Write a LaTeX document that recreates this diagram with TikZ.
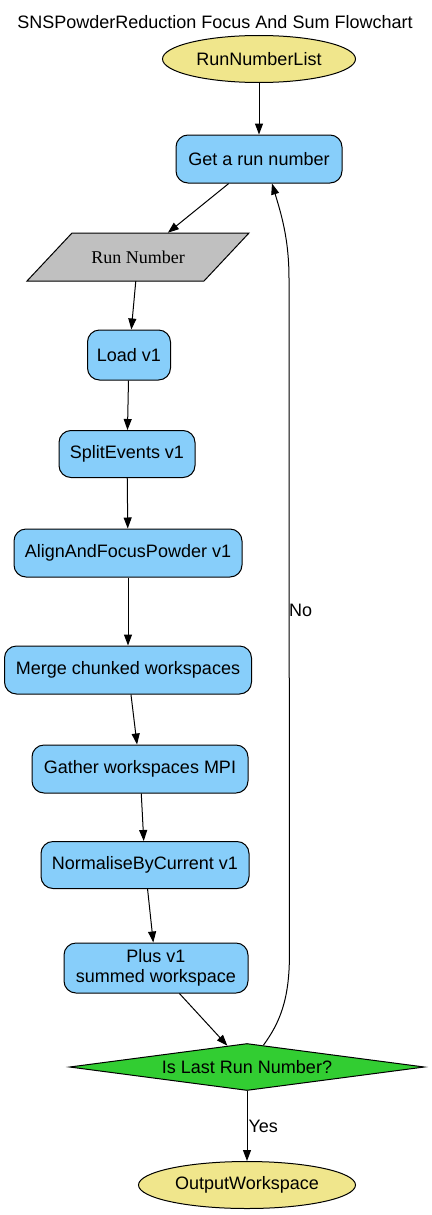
\documentclass[tikz,border=0pt]{standalone}
\usepackage{fontspec}
\setmainfont{Liberation Sans}
\newfontfamily\serifrm{Liberation Serif}
\usetikzlibrary{shapes.geometric,arrows.meta,calc}
\definecolor{boxblue}{HTML}{87CEFA}
\definecolor{khakiY}{HTML}{F0E68C}
\definecolor{grayP}{HTML}{C0C0C0}
\definecolor{greenD}{HTML}{32CD32}
\tikzset{
  every node/.style={font=\fontsize{18}{20}\selectfont},
  proc/.style={draw=black, line width=1pt, fill=boxblue, rounded corners=12pt, minimum height=48pt, inner sep=0pt, align=center},
  term/.style={draw=black, line width=1pt, fill=khakiY, ellipse, inner sep=0pt, minimum height=47pt},
  conn/.style={line width=1pt, -{Triangle[length=11pt,width=8pt]}},
}
\begin{document}
\begin{tikzpicture}[x=1pt,y=-1pt]
\useasboundingbox (0,0) rectangle (431,1215);
\node (title) at (215,22) {SNSPowderReduction Focus And Sum Flowchart};
\node[term, minimum width=193pt] (rnl) at (259,59) {RunNumberList};
\node[proc, minimum width=166pt] (get) at (259,159) {Get a run number};
\node[draw=none, minimum width=177pt, minimum height=48pt, inner sep=0pt] (rn) at (138,257) {};
\draw[line width=1pt, fill=grayP] ($(rn.center)+(-111,24)$) -- ($(rn.center)+(-66,-24)$)
  -- ($(rn.center)+(111,-24)$) -- ($(rn.center)+(66,24)$) -- cycle;
\node at (rn.center) {\serifrm\fontsize{18}{20}\selectfont Run Number};
\node[proc, minimum width=83pt, minimum height=50pt] (load) at (129,355) {Load v1};
\node[proc, minimum width=136pt, minimum height=47pt] (split) at (127,454) {SplitEvents v1};
\node[proc, minimum width=228pt] (align) at (128,553) {AlignAndFocusPowder v1};
\node[proc, minimum width=247pt] (merge) at (128,670) {Merge chunked workspaces};
\node[proc, minimum width=216pt] (gather) at (140,769) {Gather workspaces MPI};
\node[proc, minimum width=208pt, minimum height=47pt] (norm) at (145,865) {NormaliseByCurrent v1};
\node[proc, minimum width=184pt, minimum height=50pt] (plus) at (156,968) {Plus v1\\summed workspace};
\node[diamond, aspect=7.55, draw=black, line width=1pt, fill=greenD, inner sep=0pt, minimum width=355pt, minimum height=47pt] (dia) at (247,1067) {Is Last Run Number?};
\node[term, minimum width=217pt] (out) at (247,1185) {OutputWorkspace};
\draw[conn] (rnl) -- (get);
\draw[conn] (get) -- (rn);
\draw[conn] (rn) -- (load);
\draw[conn] (load) -- (split);
\draw[conn] (split) -- (align);
\draw[conn] (align) -- (merge);
\draw[conn] (merge) -- (gather);
\draw[conn] (gather) -- (norm);
\draw[conn] (norm) -- (plus);
\draw[conn] (plus) -- (dia);
\draw[conn] (dia) -- node[right, inner sep=1pt] (yes) {Yes} (out);
\draw[conn] (dia.53) .. controls ($(dia.53)+(16,-22)$) and ($(dia.53)+(26,-45)$) .. ($(dia.53)+(26,-90)$)
  -- ($(get.south)+(30,95)$)
  .. controls ($(get.south)+(30,55)$) and ($(get.south)+(22,30)$) .. ($(get.south)+(13,0)$);
\node[anchor=west, inner sep=0pt] (no) at (289,610) {No};
\end{tikzpicture}
\end{document}
